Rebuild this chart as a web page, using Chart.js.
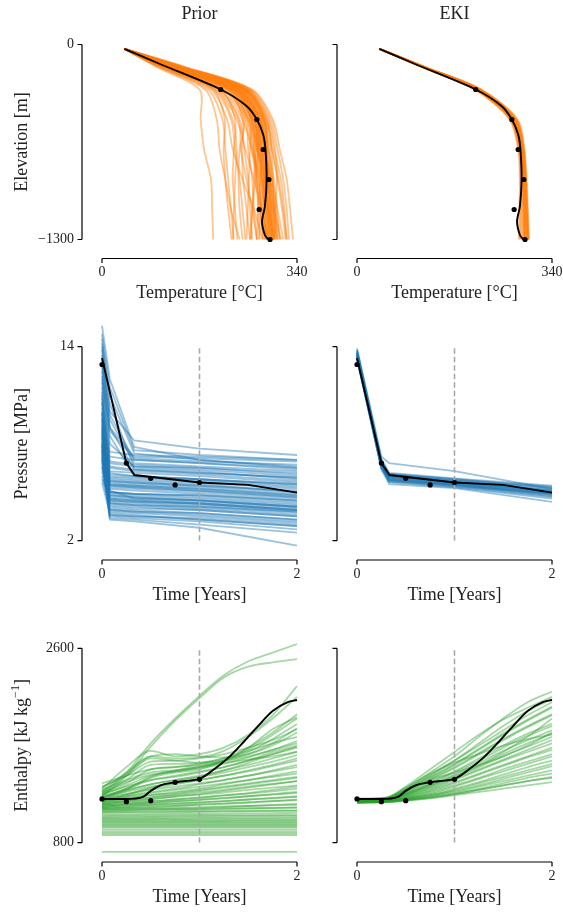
<!DOCTYPE html>
<html>
<head>
<meta charset="utf-8">
<script src="https://cdn.jsdelivr.net/npm/chart.js@4/dist/chart.umd.min.js"></script>
<style>
  body { margin: 0; background: #fff; }
  canvas { position: absolute; left: 0; top: 0; }
</style>
</head>
<body>
<canvas id="tPrior" width="563" height="914"></canvas>
<canvas id="tEki" width="563" height="914"></canvas>
<canvas id="pPrior" width="563" height="914"></canvas>
<canvas id="pEki" width="563" height="914"></canvas>
<canvas id="hPrior" width="563" height="914"></canvas>
<canvas id="hEki" width="563" height="914"></canvas>
<script>
// ---- tick labels ----
const tempTicks = [0, 340];
const elevTicks = [-1300, 0];
const timeTicks = [0, 2];
const presTicks = [2, 14];
const enthTicks = [800, 2600];

// ---- temperature profiles (x = temperature, y = elevation) ----
const tempElev = [-29, -150, -300, -500, -700, -900, -1100, -1300];
const tempPrior = [
  [39, 95, 170, 172, 178, 190, 192, 194],
  [39, 100, 185, 210, 215, 220, 225, 230],
  [39, 105, 195, 225, 232, 240, 245, 250],
  [39, 110, 205, 240, 248, 255, 258, 262],
  [39, 115, 215, 250, 255, 262, 265, 270],
  [39, 120, 225, 260, 265, 270, 272, 275],
  [39, 125, 232, 268, 275, 280, 283, 285],
  [39, 130, 240, 275, 282, 290, 295, 298],
  [39, 135, 248, 282, 290, 300, 305, 310],
  [39, 140, 255, 290, 300, 312, 318, 322],
  [39, 145, 262, 298, 310, 322, 328, 333],
  [39, 118, 220, 255, 270, 285, 298, 305],
  [39, 112, 210, 245, 262, 278, 290, 300],
  [39, 108, 200, 235, 250, 265, 278, 290],
  [39, 122, 228, 262, 268, 265, 262, 260],
  [39, 128, 236, 270, 272, 268, 262, 258],
  [39, 102, 190, 218, 228, 245, 265, 280],
  [39, 98, 180, 200, 205, 215, 225, 240],
  [39, 132, 244, 278, 285, 288, 290, 292],
  [39, 138, 250, 286, 295, 298, 300, 302],
  [39, 116, 218, 252, 260, 275, 285, 295],
  [39, 126, 234, 266, 278, 292, 300, 310],
  [39, 114, 212, 248, 240, 238, 240, 245],
  [39, 110, 203, 238, 242, 252, 262, 270],
  [39, 142, 258, 292, 302, 305, 302, 300],
  [39, 120, 224, 258, 272, 282, 288, 292],
  [39, 106, 198, 228, 235, 232, 230, 228],
  [39, 136, 252, 284, 288, 282, 280, 284],
  [39, 124, 230, 264, 276, 288, 294, 296],
  [39, 118, 222, 254, 262, 268, 275, 282],
  [39, 128, 238, 272, 280, 286, 290, 294],
  [39, 133, 246, 280, 287, 294, 300, 306],
  [39, 121, 226, 263, 274, 284, 292, 298],
  [39, 127, 235, 269, 279, 285, 288, 290],
  [39, 131, 242, 276, 283, 289, 294, 300],
  [39, 137, 250, 284, 292, 296, 302, 312],
  [39, 141, 256, 288, 296, 306, 314, 320],
  [39, 125, 233, 262, 266, 272, 280, 288],
  [39, 119, 223, 256, 264, 270, 278, 286],
  [39, 129, 239, 270, 276, 278, 276, 274],
  [39, 134, 247, 279, 281, 276, 272, 270],
  [39, 123, 231, 259, 258, 256, 254, 252],
  [39, 117, 219, 245, 244, 246, 252, 258],
  [39, 139, 253, 283, 286, 290, 295, 300],
  [39, 144, 260, 295, 306, 316, 322, 326],
  [39, 126, 236, 273, 284, 296, 306, 316],
  [39, 130, 241, 274, 283, 292, 298, 303],
  [39, 122, 229, 265, 273, 281, 285, 287],
  [39, 135, 249, 281, 288, 291, 293, 295],
  [39, 128, 237, 271, 277, 283, 286, 288],
  [39, 132, 245, 277, 284, 287, 289, 289],
  [39, 124, 232, 266, 270, 274, 277, 280],
  [39, 111, 207, 232, 230, 228, 232, 236],
  [39, 104, 194, 214, 212, 215, 220, 226],
  [39, 136, 250, 282, 290, 297, 302, 306],
  [39, 127, 236, 267, 271, 279, 290, 298],
  [39, 120, 226, 261, 271, 278, 283, 287],
  [39, 133, 244, 273, 278, 284, 290, 296],
  [39, 129, 240, 276, 286, 293, 297, 300],
  [39, 138, 251, 287, 297, 308, 316, 322]
];
const tempEki = [
  [39, 112, 205, 266, 281, 284, 283, 282],
  [39, 114, 208, 268, 283, 286, 286, 286],
  [39, 115, 210, 270, 285, 288, 289, 290],
  [39, 116, 211, 272, 287, 290, 292, 293],
  [39, 117, 213, 275, 289, 292, 294, 296],
  [39, 118, 214, 277, 291, 294, 296, 298],
  [39, 119, 216, 280, 292, 296, 298, 300],
  [39, 113, 207, 269, 284, 289, 291, 292],
  [39, 116, 212, 273, 288, 293, 295, 297],
  [39, 118, 215, 278, 290, 295, 297, 299],
  [39, 113, 206, 267, 282, 285, 285, 284],
  [39, 115, 209, 271, 286, 290, 291, 291],
  [39, 117, 212, 274, 288, 291, 293, 294],
  [39, 118, 215, 276, 290, 293, 295, 297],
  [39, 116, 210, 270, 284, 287, 288, 288],
  [39, 119, 217, 279, 291, 294, 297, 299],
  [39, 114, 209, 272, 287, 292, 294, 295],
  [39, 117, 213, 276, 289, 291, 292, 293],
  [39, 115, 211, 273, 289, 294, 296, 298],
  [39, 118, 214, 275, 288, 290, 291, 292]
];
const tempTruthElev = [-29, -130, -300, -410, -500, -600, -700, -900, -1080, -1180, -1270, -1300];
const tempTruth = [39, 101, 207, 252, 270, 281, 285, 287, 284, 279, 284, 290];
const tempObsElev = [-300, -500, -700, -900, -1100, -1300];
const tempObs = [207, 270, 281, 291, 274, 293];

// ---- pressure ----
const presTime = [0, 0.08, 0.33, 1, 2];
const presPrior = [
  [14.8, 11.5, 7.6, 7.3, 7.0],
  [15.3, 12.0, 7.8, 7.0, 6.5],
  [14.5, 10.5, 6.5, 6.3, 5.8],
  [13.8, 9.0, 7.2, 7.1, 6.9],
  [12.5, 7.5, 7.3, 7.2, 7.0],
  [11.5, 7.2, 7.0, 6.8, 6.4],
  [10.5, 6.9, 6.7, 6.5, 6.1],
  [9.8, 6.6, 6.4, 6.2, 5.9],
  [9.2, 6.3, 6.2, 6.0, 5.6],
  [8.8, 6.0, 5.9, 5.7, 5.3],
  [8.5, 5.8, 5.7, 5.5, 5.0],
  [8.2, 5.5, 5.4, 5.2, 4.8],
  [8.0, 5.2, 5.1, 4.9, 4.5],
  [7.8, 5.0, 4.9, 4.7, 4.3],
  [7.6, 4.8, 4.7, 4.5, 4.1],
  [7.4, 4.6, 4.5, 4.3, 3.9],
  [7.2, 4.4, 4.3, 4.1, 3.7],
  [7.0, 4.2, 4.1, 3.9, 3.5],
  [6.0, 4.0, 3.9, 3.7, 3.3],
  [5.6, 3.7, 3.6, 3.3, 2.9],
  [6.8, 3.4, 3.3, 3.0, 2.5],
  [7.5, 3.3, 3.2, 2.8, 1.7],
  [9.5, 4.3, 4.2, 4.0, 3.6],
  [10.0, 5.3, 5.2, 5.0, 4.6],
  [11.0, 5.6, 5.5, 5.3, 4.9],
  [12.0, 8.5, 6.0, 5.8, 5.4],
  [13.0, 9.5, 6.8, 6.6, 6.3],
  [14.0, 10.0, 8.2, 7.7, 7.3],
  [8.6, 4.9, 4.8, 4.6, 4.2],
  [9.0, 5.1, 4.6, 4.4, 4.0],
  [13.5, 9.8, 7.0, 6.8, 6.5],
  [12.8, 8.0, 6.6, 6.4, 6.0],
  [11.8, 6.8, 6.6, 6.5, 6.2],
  [11.2, 6.5, 6.3, 6.1, 5.7],
  [10.8, 6.2, 6.0, 5.8, 5.5],
  [10.2, 5.9, 5.8, 5.6, 5.2],
  [9.6, 5.7, 5.6, 5.4, 5.0],
  [9.4, 5.4, 5.3, 5.1, 4.7],
  [9.1, 5.0, 4.9, 4.8, 4.4],
  [8.9, 4.7, 4.6, 4.5, 4.1],
  [8.7, 4.5, 4.4, 4.3, 3.9],
  [8.4, 4.3, 4.2, 4.1, 3.8],
  [8.1, 4.1, 4.0, 3.9, 3.5],
  [7.9, 3.9, 3.8, 3.7, 3.3],
  [7.7, 3.8, 3.7, 3.5, 3.1],
  [7.3, 3.6, 3.5, 3.3, 2.9],
  [7.1, 3.5, 3.4, 3.2, 2.7],
  [6.6, 3.9, 3.8, 3.6, 3.2],
  [6.3, 4.5, 4.4, 4.2, 3.8],
  [5.8, 4.8, 4.7, 4.5, 4.1],
  [6.5, 5.0, 4.9, 4.8, 4.5],
  [7.0, 5.4, 5.3, 5.1, 4.7],
  [7.6, 5.7, 5.6, 5.4, 5.1],
  [8.3, 6.1, 6.0, 5.8, 5.5],
  [12.2, 9.0, 6.4, 6.2, 5.9],
  [14.2, 11.0, 7.4, 7.0, 6.6],
  [13.2, 8.8, 7.1, 6.9, 6.7],
  [10.6, 5.5, 5.4, 5.2, 4.8],
  [9.9, 4.6, 4.5, 4.3, 3.9],
  [8.0, 3.6, 3.5, 3.4, 3.0]
];
const presEkiTime = [0, 0.25, 0.33, 1, 2];
const presEki = [
  [13.9, 7.2, 6.8, 6.3, 5.2],
  [13.6, 6.9, 6.1, 5.7, 5.1],
  [13.5, 6.8, 6.0, 5.65, 5.0],
  [13.4, 6.7, 5.9, 5.55, 4.95],
  [13.3, 6.6, 5.8, 5.5, 4.9],
  [13.2, 6.5, 5.7, 5.45, 4.8],
  [13.8, 6.9, 6.05, 5.75, 5.3],
  [13.7, 6.6, 5.6, 5.3, 4.6],
  [13.4, 6.4, 5.5, 5.25, 4.4],
  [13.6, 7.0, 6.2, 5.85, 5.4],
  [13.5, 6.75, 5.95, 5.6, 5.15],
  [13.3, 6.55, 5.75, 5.4, 4.75],
  [13.6, 6.85, 6.0, 5.7, 5.2],
  [13.5, 6.7, 5.85, 5.5, 4.95],
  [13.4, 6.6, 5.8, 5.5, 5.0],
  [13.7, 6.95, 6.1, 5.8, 5.35],
  [13.3, 6.5, 5.65, 5.35, 4.7],
  [13.5, 6.7, 5.9, 5.6, 5.1],
  [13.6, 6.8, 5.95, 5.62, 5.05],
  [13.4, 6.6, 5.78, 5.45, 4.85],
  [13.8, 7.05, 6.15, 5.8, 5.25],
  [13.5, 6.65, 5.7, 5.4, 4.9]
];
const presTruthTime = [0, 0.25, 0.333, 1, 1.5, 2];
const presTruth = [13.3, 6.8, 6.06, 5.6, 5.45, 4.97];
const presObsTime = [0, 0.25, 0.5, 0.75, 1];
const presObs = [12.9, 6.8, 5.86, 5.45, 5.6];

// ---- enthalpy ----
const enthTime = [0, 0.25, 0.5, 0.75, 1, 1.25, 1.5, 1.75, 2];
const enthPrior = [
  [1250, 1450, 1720, 1950, 2160, 2350, 2480, 2560, 2640],
  [1230, 1420, 1690, 1930, 2140, 2330, 2430, 2470, 2500],
  [1300, 1500, 1650, 1600, 1620, 1680, 1800, 1980, 2250],
  [1280, 1450, 1600, 1580, 1590, 1650, 1780, 1950, 2150],
  [1320, 1420, 1550, 1560, 1580, 1620, 1680, 1750, 1850],
  [1260, 1350, 1480, 1500, 1530, 1580, 1650, 1720, 1780],
  [1240, 1330, 1420, 1460, 1500, 1550, 1600, 1660, 1720],
  [1220, 1300, 1380, 1420, 1460, 1500, 1560, 1620, 1680],
  [1200, 1280, 1340, 1380, 1420, 1470, 1520, 1580, 1640],
  [1190, 1250, 1300, 1340, 1380, 1420, 1470, 1520, 1580],
  [1180, 1230, 1270, 1300, 1340, 1380, 1420, 1470, 1520],
  [1170, 1210, 1240, 1270, 1300, 1340, 1380, 1420, 1460],
  [1160, 1190, 1220, 1250, 1280, 1310, 1340, 1370, 1400],
  [1150, 1180, 1200, 1230, 1250, 1280, 1310, 1340, 1370],
  [1140, 1160, 1180, 1200, 1220, 1240, 1260, 1290, 1320],
  [1130, 1150, 1165, 1180, 1195, 1210, 1230, 1250, 1270],
  [1120, 1135, 1150, 1160, 1170, 1185, 1200, 1215, 1230],
  [1110, 1120, 1130, 1140, 1150, 1160, 1170, 1185, 1200],
  [1100, 1105, 1110, 1115, 1120, 1130, 1140, 1150, 1160],
  [1090, 1095, 1100, 1102, 1105, 1110, 1115, 1120, 1125],
  [1075, 1078, 1080, 1082, 1085, 1088, 1090, 1093, 1095],
  [1060, 1062, 1064, 1066, 1068, 1070, 1072, 1074, 1076],
  [1040, 1041, 1042, 1043, 1044, 1045, 1046, 1047, 1048],
  [1020, 1020, 1021, 1021, 1022, 1022, 1023, 1023, 1024],
  [1000, 1000, 1000, 1001, 1001, 1001, 1002, 1002, 1002],
  [980, 980, 980, 980, 980, 980, 980, 980, 980],
  [960, 960, 960, 960, 960, 960, 960, 960, 960],
  [940, 940, 940, 940, 940, 940, 940, 940, 940],
  [900, 900, 900, 900, 900, 900, 900, 900, 900],
  [870, 870, 870, 870, 870, 870, 870, 870, 870],
  [715, 715, 715, 715, 715, 715, 715, 715, 715],
  [1350, 1420, 1480, 1500, 1520, 1560, 1640, 1760, 1900],
  [1210, 1290, 1400, 1450, 1480, 1560, 1680, 1850, 1960],
  [1290, 1380, 1450, 1470, 1500, 1560, 1660, 1800, 1950],
  [1270, 1360, 1430, 1460, 1490, 1530, 1590, 1660, 1740],
  [1250, 1320, 1380, 1410, 1450, 1500, 1560, 1640, 1700],
  [1230, 1290, 1340, 1380, 1410, 1450, 1500, 1550, 1610],
  [1215, 1270, 1320, 1350, 1380, 1420, 1460, 1510, 1560],
  [1205, 1250, 1290, 1320, 1350, 1380, 1420, 1460, 1500],
  [1195, 1230, 1260, 1290, 1320, 1350, 1380, 1410, 1440],
  [1185, 1215, 1240, 1260, 1290, 1320, 1350, 1380, 1410],
  [1175, 1200, 1220, 1240, 1265, 1290, 1320, 1345, 1370],
  [1165, 1185, 1205, 1225, 1245, 1265, 1290, 1310, 1330],
  [1155, 1170, 1185, 1200, 1215, 1235, 1255, 1275, 1300],
  [1145, 1160, 1170, 1185, 1200, 1215, 1230, 1245, 1260],
  [1135, 1145, 1155, 1165, 1175, 1185, 1200, 1210, 1225],
  [1125, 1130, 1140, 1145, 1155, 1165, 1175, 1185, 1195],
  [1115, 1118, 1122, 1126, 1130, 1135, 1140, 1145, 1150],
  [1105, 1107, 1110, 1112, 1114, 1117, 1120, 1123, 1126],
  [1085, 1086, 1088, 1090, 1092, 1094, 1096, 1098, 1100],
  [1050, 1051, 1052, 1053, 1054, 1055, 1056, 1057, 1058],
  [1030, 1030, 1031, 1031, 1032, 1032, 1033, 1033, 1034],
  [1010, 1010, 1010, 1011, 1011, 1011, 1012, 1012, 1012],
  [990, 990, 990, 990, 990, 990, 990, 990, 990],
  [970, 970, 970, 970, 970, 970, 970, 970, 970],
  [950, 950, 950, 950, 950, 950, 950, 950, 950],
  [920, 920, 920, 920, 920, 920, 920, 920, 920],
  [885, 885, 885, 885, 885, 885, 885, 885, 885],
  [1310, 1440, 1600, 1620, 1600, 1590, 1620, 1700, 1820],
  [1270, 1420, 1580, 1560, 1540, 1560, 1620, 1720, 1860],
  [1240, 1380, 1520, 1530, 1540, 1580, 1680, 1820, 1990],
  [1220, 1300, 1410, 1470, 1510, 1540, 1570, 1600, 1640],
  [1190, 1240, 1310, 1360, 1410, 1470, 1540, 1620, 1690]
];
const enthEkiTime = [0, 0.3, 0.5, 0.75, 1, 1.25, 1.5, 1.75, 2];
const enthEki = [
  [1200, 1210, 1300, 1450, 1600, 1780, 1950, 2100, 2200],
  [1200, 1210, 1290, 1420, 1560, 1720, 1880, 2020, 2130],
  [1195, 1205, 1280, 1400, 1520, 1660, 1800, 1930, 2050],
  [1195, 1200, 1270, 1380, 1490, 1620, 1750, 1870, 1980],
  [1190, 1200, 1260, 1360, 1460, 1580, 1700, 1810, 1900],
  [1190, 1195, 1250, 1340, 1430, 1540, 1650, 1750, 1840],
  [1185, 1195, 1240, 1320, 1400, 1500, 1600, 1690, 1780],
  [1185, 1190, 1230, 1300, 1380, 1470, 1560, 1640, 1720],
  [1180, 1190, 1220, 1280, 1350, 1430, 1510, 1590, 1660],
  [1180, 1185, 1210, 1260, 1320, 1390, 1460, 1530, 1600],
  [1175, 1185, 1205, 1240, 1290, 1350, 1410, 1470, 1530],
  [1175, 1180, 1200, 1230, 1270, 1320, 1370, 1420, 1470],
  [1170, 1180, 1195, 1220, 1250, 1290, 1330, 1370, 1400],
  [1170, 1175, 1190, 1210, 1240, 1270, 1300, 1330, 1360],
  [1210, 1220, 1320, 1480, 1640, 1800, 1940, 2050, 2150],
  [1205, 1215, 1310, 1440, 1540, 1620, 1700, 1760, 1800],
  [1200, 1210, 1280, 1380, 1450, 1520, 1600, 1700, 1820],
  [1195, 1200, 1250, 1330, 1420, 1520, 1640, 1780, 1950],
  [1205, 1215, 1300, 1430, 1560, 1700, 1840, 1980, 2100],
  [1200, 1205, 1285, 1410, 1530, 1670, 1810, 1940, 2060],
  [1195, 1205, 1270, 1390, 1500, 1630, 1760, 1880, 1990],
  [1190, 1200, 1255, 1350, 1450, 1560, 1680, 1790, 1880],
  [1185, 1195, 1245, 1330, 1410, 1510, 1620, 1720, 1810],
  [1185, 1190, 1235, 1310, 1390, 1480, 1570, 1660, 1750],
  [1180, 1190, 1225, 1290, 1360, 1440, 1520, 1600, 1680],
  [1180, 1185, 1215, 1270, 1330, 1400, 1480, 1550, 1620],
  [1175, 1185, 1210, 1250, 1300, 1360, 1430, 1500, 1560],
  [1175, 1180, 1200, 1240, 1280, 1330, 1390, 1450, 1510],
  [1170, 1180, 1195, 1225, 1260, 1300, 1350, 1400, 1440],
  [1170, 1175, 1190, 1215, 1250, 1290, 1330, 1370, 1410]
];
const enthTruthTime = [0, 0.25, 0.42, 0.5, 0.6, 0.75, 0.9, 1.0, 1.15, 1.3, 1.45, 1.6, 1.75, 1.9, 2.0];
const enthTruth = [1205, 1205, 1225, 1280, 1330, 1360, 1375, 1390, 1480, 1590, 1730, 1880, 2020, 2100, 2121];
const enthObsTime = [0, 0.25, 0.5, 0.75, 1];
const enthObs = [1205, 1180, 1189, 1359, 1387];

const ORANGE = 'rgba(255,127,14,0.45)';
const BLUE = 'rgba(31,119,180,0.45)';
const GREEN = 'rgba(44,160,44,0.42)';
const SERIF = '"Liberation Serif", "DejaVu Serif", serif';

function fmt(v) { return v < 0 ? '\u2212' + Math.abs(v) : String(v); }

function line(xs, ys, color, width, tension, order) {
  return {
    data: xs.map((x, i) => ({ x: x, y: ys[i] })),
    borderColor: color, borderWidth: width, pointRadius: 0,
    tension: tension, fill: false, clip: false, order: order
  };
}
function dots(xs, ys) {
  return {
    data: xs.map((x, i) => ({ x: x, y: ys[i] })),
    showLine: false, pointRadius: 2.6, pointBackgroundColor: '#000',
    pointBorderWidth: 0, clip: false, order: 0
  };
}
function dashed(y0, y1) {
  return {
    data: [{ x: 1, y: y0 }, { x: 1, y: y1 }],
    borderColor: '#a9a9a9', borderWidth: 1.6, borderDash: [5.5, 3],
    pointRadius: 0, order: 2
  };
}

// offset, trimmed spines like sns.despine(offset, trim=True)
function spines(p) {
  return {
    id: 'spines',
    afterDraw(chart) {
      const ctx = chart.ctx, xs = chart.scales.x, ys = chart.scales.y;
      const xa = xs.getPixelForValue(p.xTicks[0]);
      const xb = xs.getPixelForValue(p.xTicks[p.xTicks.length - 1]);
      const ya = ys.getPixelForValue(p.yTicks[0]);
      const yb = ys.getPixelForValue(p.yTicks[p.yTicks.length - 1]);
      ctx.save();
      ctx.strokeStyle = '#000';
      ctx.lineWidth = 1.2;
      ctx.beginPath();
      ctx.moveTo(xa, p.xSpine); ctx.lineTo(xb, p.xSpine);
      p.xTicks.forEach(v => {
        const px = xs.getPixelForValue(v);
        ctx.moveTo(px, p.xSpine); ctx.lineTo(px, p.xSpine + 4.5);
      });
      ctx.moveTo(p.ySpine, ya); ctx.lineTo(p.ySpine, yb);
      p.yTicks.forEach(v => {
        const py = ys.getPixelForValue(v);
        ctx.moveTo(p.ySpine, py); ctx.lineTo(p.ySpine - 4.5, py);
      });
      ctx.stroke();

      ctx.fillStyle = '#222';
      ctx.font = '14px ' + SERIF;
      ctx.textAlign = 'center';
      ctx.textBaseline = 'middle';
      p.xTicks.forEach(v => ctx.fillText(fmt(v), xs.getPixelForValue(v), p.xSpine + 14));
      if (p.yLabels) {
        ctx.textAlign = 'right';
        p.yTicks.forEach(v => ctx.fillText(fmt(v), p.ySpine - 8, ys.getPixelForValue(v)));
      }
      ctx.textAlign = 'center';
      ctx.font = '18px ' + SERIF;
      ctx.fillText(p.xTitle, (xa + xb) / 2, p.xSpine + 35);
      if (p.title) ctx.fillText(p.title, (xa + xb) / 2, 14);
      if (p.yTitle) {
        ctx.save();
        ctx.translate(22, (ya + yb) / 2);
        ctx.rotate(-Math.PI / 2);
        // text parts, some as superscript
        const parts = p.yTitle;
        let total = 0;
        parts.forEach(t => {
          ctx.font = (t.sup ? '12px ' : '18px ') + SERIF;
          total += ctx.measureText(t.s).width;
        });
        let x = -total / 2;
        ctx.textAlign = 'left';
        parts.forEach(t => {
          ctx.font = (t.sup ? '12px ' : '18px ') + SERIF;
          ctx.fillText(t.s, x, t.sup ? -6 : 0);
          x += ctx.measureText(t.s).width;
        });
        ctx.restore();
      }
      ctx.restore();
    }
  };
}

function panel(id, area, xr, yr, datasets, p) {
  new Chart(document.getElementById(id), {
    type: 'line',
    data: { datasets: datasets },
    options: {
      responsive: false,
      animation: false,
      devicePixelRatio: 1,
      events: [],
      layout: { padding: { left: area[0], top: area[1], right: 563 - area[2], bottom: 914 - area[3] } },
      scales: {
        x: { type: 'linear', min: xr[0], max: xr[1], display: false },
        y: { type: 'linear', min: yr[0], max: yr[1], display: false }
      },
      plugins: { legend: { display: false }, tooltip: { enabled: false } }
    },
    plugins: [spines(p)]
  });
}

const LEFT = [102, 297], RIGHT = [357, 552];
const ROW1 = [44.5, 239.5], ROW2 = [346.7, 540.7], ROW3 = [648.3, 842.7];
const ENS_W = 1.8;

// Row 1: temperature
function tempSets(rows) {
  const ds = rows.map(r => line(r, tempElev, ORANGE, ENS_W, 0.3, 3));
  ds.push(line(tempTruth, tempTruthElev, '#000', 1.9, 0.3, 1));
  ds.push(dots(tempObs, tempObsElev));
  return ds;
}
panel('tPrior', [LEFT[0], ROW1[0], LEFT[1], ROW1[1]], [0, 340], [-1300, 0], tempSets(tempPrior),
  { xTicks: tempTicks, yTicks: elevTicks, xSpine: 258.5, ySpine: 82, yLabels: true,
    xTitle: 'Temperature [\u00B0C]', title: 'Prior', yTitle: [{ s: 'Elevation [m]' }] });
panel('tEki', [RIGHT[0], ROW1[0], RIGHT[1], ROW1[1]], [0, 340], [-1300, 0], tempSets(tempEki),
  { xTicks: tempTicks, yTicks: elevTicks, xSpine: 258.5, ySpine: 337, yLabels: false,
    xTitle: 'Temperature [\u00B0C]', title: 'EKI' });

// Row 2: pressure
function presSets(times, rows) {
  const ds = rows.map(r => line(times, r, BLUE, ENS_W, 0, 3));
  ds.push(dashed(2, 14));
  ds.push(line(presTruthTime, presTruth, '#000', 1.9, 0, 1));
  ds.push(dots(presObsTime, presObs));
  return ds;
}
panel('pPrior', [LEFT[0], ROW2[0], LEFT[1], ROW2[1]], [0, 2], [2, 14], presSets(presTime, presPrior),
  { xTicks: timeTicks, yTicks: presTicks, xSpine: 560, ySpine: 82, yLabels: true,
    xTitle: 'Time [Years]', yTitle: [{ s: 'Pressure [MPa]' }] });
panel('pEki', [RIGHT[0], ROW2[0], RIGHT[1], ROW2[1]], [0, 2], [2, 14], presSets(presEkiTime, presEki),
  { xTicks: timeTicks, yTicks: presTicks, xSpine: 560, ySpine: 337, yLabels: false,
    xTitle: 'Time [Years]' });

// Row 3: enthalpy
function enthSets(times, rows) {
  const ds = rows.map(r => Object.assign(line(times, r, GREEN, ENS_W, 0, 3), { cubicInterpolationMode: 'monotone' }));
  ds.push(dashed(800, 2600));
  ds.push(Object.assign(line(enthTruthTime, enthTruth, '#000', 1.9, 0, 1), { cubicInterpolationMode: 'monotone' }));
  ds.push(dots(enthObsTime, enthObs));
  return ds;
}
panel('hPrior', [LEFT[0], ROW3[0], LEFT[1], ROW3[1]], [0, 2], [800, 2600], enthSets(enthTime, enthPrior),
  { xTicks: timeTicks, yTicks: enthTicks, xSpine: 862, ySpine: 82, yLabels: true,
    xTitle: 'Time [Years]', yTitle: [{ s: 'Enthalpy [kJ kg' }, { s: '\u22121', sup: true }, { s: ']' }] });
panel('hEki', [RIGHT[0], ROW3[0], RIGHT[1], ROW3[1]], [0, 2], [800, 2600], enthSets(enthEkiTime, enthEki),
  { xTicks: timeTicks, yTicks: enthTicks, xSpine: 862, ySpine: 337, yLabels: false,
    xTitle: 'Time [Years]' });
</script>
</body>
</html>
